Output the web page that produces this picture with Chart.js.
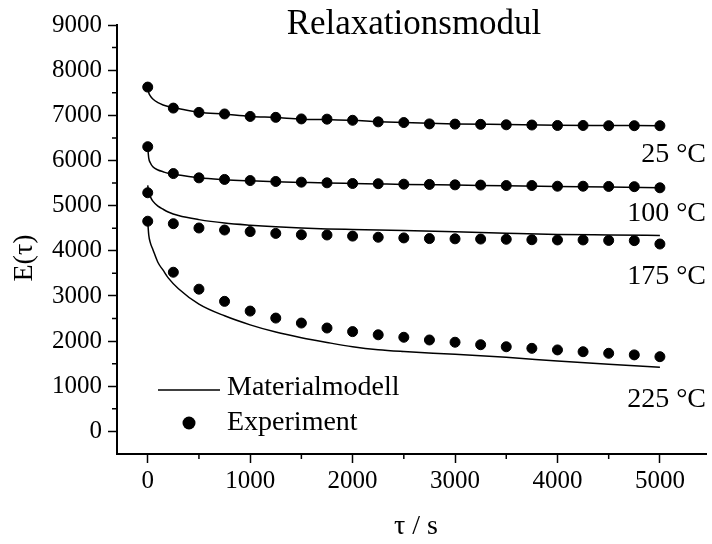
<!DOCTYPE html>
<html>
<head>
<meta charset="utf-8">
<script src="https://cdn.jsdelivr.net/npm/chart.js@4/dist/chart.umd.min.js"></script>
<style>
  body { margin: 0; background: #fff; }
  #wrap { width: 712px; height: 544px; }
</style>
</head>
<body>
<div id="wrap"><canvas id="chart" width="712" height="544"></canvas></div>
<script>
// experiment: every 250 s
let expTimes = [0, 250, 500, 750, 1000, 1250, 1500, 1750, 2000, 2250, 2500, 2750, 3000, 3250, 3500, 3750, 4000, 4250, 4500, 4750, 5000];
let exp25  = [7625, 7160, 7065, 7030, 6975, 6955, 6920, 6915, 6890, 6855, 6840, 6810, 6805, 6800, 6790, 6785, 6775, 6775, 6770, 6770, 6770];
let exp100 = [6305, 5710, 5615, 5580, 5555, 5535, 5520, 5505, 5490, 5485, 5475, 5470, 5460, 5455, 5445, 5445, 5430, 5430, 5425, 5420, 5395];
let exp175 = [5285, 4600, 4505, 4460, 4425, 4385, 4355, 4350, 4325, 4300, 4285, 4270, 4265, 4260, 4255, 4245, 4240, 4240, 4230, 4225, 4150];
let exp225 = [4655, 3525, 3150, 2880, 2665, 2510, 2400, 2290, 2210, 2140, 2085, 2025, 1975, 1920, 1875, 1840, 1805, 1765, 1730, 1695, 1655];

// material model curves
let modelTimes = [0, 10, 25, 50, 100, 150, 200, 300, 500, 750, 1000, 1250, 1500, 1750, 2000, 2250, 2500, 3000, 3500, 4000, 4500, 5000];
let model25  = [7620, 7500, 7430, 7360, 7280, 7230, 7195, 7150, 7070, 7025, 6975, 6950, 6915, 6905, 6890, 6860, 6840, 6810, 6795, 6780, 6775, 6770];
let model100 = [6300, 6050, 5950, 5860, 5790, 5750, 5715, 5680, 5615, 5575, 5550, 5530, 5515, 5500, 5490, 5480, 5470, 5455, 5440, 5425, 5415, 5395];
let model175 = [5450, 5290, 5200, 5100, 4990, 4920, 4860, 4780, 4690, 4615, 4568, 4532, 4505, 4485, 4473, 4462, 4450, 4422, 4390, 4362, 4350, 4340];
let model225 = [4650, 4350, 4180, 4030, 3740, 3570, 3400, 3160, 2820, 2560, 2360, 2200, 2075, 1970, 1875, 1808, 1768, 1708, 1640, 1560, 1485, 1420];

let xTicks = [0, 1000, 2000, 3000, 4000, 5000];
let xMinor = [500, 1500, 2500, 3500, 4500];
let yTicks = [0, 1000, 2000, 3000, 4000, 5000, 6000, 7000, 8000, 9000];
let yMinor = [500, 1500, 2500, 3500, 4500, 5500, 6500, 7500, 8500];
let seriesLabels = ['25 °C', '100 °C', '175 °C', '225 °C'];

const FONT = '"Liberation Serif", "Times New Roman", serif';

function pts(xs, ys) {
    return xs.map((x, i) => ({ x: x, y: ys[i] }));
}

function modelSet(ys) {
    return {
        type: 'line',
        data: pts(modelTimes, ys),
        borderColor: '#000',
        borderWidth: 1.5,
        pointRadius: 0,
        cubicInterpolationMode: 'monotone',
        fill: false
    };
}

function expSet(ys) {
    return {
        type: 'scatter',
        data: pts(expTimes, ys),
        backgroundColor: '#000',
        borderColor: '#000',
        pointRadius: 5,
        pointHoverRadius: 5,
        showLine: false
    };
}

// text, legend and minor ticks
const decorations = {
    id: 'decorations',
    afterDraw(chart) {
        let ctx = chart.ctx;
        let xs = chart.scales.x, ys = chart.scales.y;
        let area = chart.chartArea;
        ctx.save();
        ctx.strokeStyle = '#000';
        ctx.lineWidth = 1.5;
        ctx.beginPath();
        for (let v of xMinor) {
            let px = xs.getPixelForValue(v);
            ctx.moveTo(px, area.bottom);
            ctx.lineTo(px, area.bottom + 5);
        }
        for (let v of yMinor) {
            let py = ys.getPixelForValue(v);
            ctx.moveTo(area.left, py);
            ctx.lineTo(area.left - 5, py);
        }
        ctx.stroke();

        ctx.fillStyle = '#000';
        ctx.textBaseline = 'middle';

        // title
        ctx.font = '35px ' + FONT;
        ctx.textAlign = 'center';
        ctx.fillText('Relaxationsmodul', 414, 25);

        // axis titles
        ctx.font = '28px ' + FONT;
        ctx.fillText('τ / s', 416, 527);
        ctx.save();
        ctx.translate(25, 258);
        ctx.rotate(-Math.PI / 2);
        ctx.fillText('E(τ)', 0, 0);
        ctx.restore();

        // series labels
        ctx.textAlign = 'right';
        let labelY = [155, 214, 277, 400];
        seriesLabels.forEach((t, i) => ctx.fillText(t, 706, labelY[i]));

        // legend
        ctx.textAlign = 'left';
        ctx.lineWidth = 1.5;
        ctx.beginPath();
        ctx.moveTo(158, 390);
        ctx.lineTo(220, 390);
        ctx.stroke();
        ctx.beginPath();
        ctx.arc(189, 423, 6.5, 0, Math.PI * 2);
        ctx.fill();
        ctx.fillText('Materialmodell', 227, 388);
        ctx.fillText('Experiment', 227, 423);
        ctx.restore();
    }
};

let ctx = document.getElementById('chart').getContext('2d');
let chart = new Chart(ctx, {
    data: {
        datasets: [
            modelSet(model25), modelSet(model100), modelSet(model175), modelSet(model225),
            expSet(exp25), expSet(exp100), expSet(exp175), expSet(exp225)
        ]
    },
    options: {
        responsive: false,
        animation: false,
        events: [],
        layout: { padding: { top: 25, right: 0, left: 0, bottom: 0 } },
        plugins: {
            legend: { display: false },
            title: { display: false },
            tooltip: { enabled: false }
        },
        scales: {
            x: {
                type: 'linear',
                min: -300,
                max: 5450,
                afterBuildTicks: s => { s.ticks = xTicks.map(v => ({ value: v })); },
                afterFit: s => { s.height = 90; },
                ticks: { color: '#000', font: { family: FONT, size: 25 }, padding: 3, maxRotation: 0, callback: v => String(v) },
                grid: { drawOnChartArea: false, drawTicks: true, tickLength: 9, tickColor: '#000', tickWidth: 1.5 },
                border: { display: true, color: '#000', width: 2 }
            },
            y: {
                type: 'linear',
                min: -500,
                max: 9000,
                afterBuildTicks: s => { s.ticks = yTicks.map(v => ({ value: v })); },
                afterFit: s => { s.width = 117; },
                ticks: { color: '#000', font: { family: FONT, size: 25 }, padding: 6, callback: v => String(v) },
                grid: { drawOnChartArea: false, drawTicks: true, tickLength: 9, tickColor: '#000', tickWidth: 1.5 },
                border: { display: true, color: '#000', width: 2 }
            }
        }
    },
    plugins: [decorations]
});
</script>
</body>
</html>
